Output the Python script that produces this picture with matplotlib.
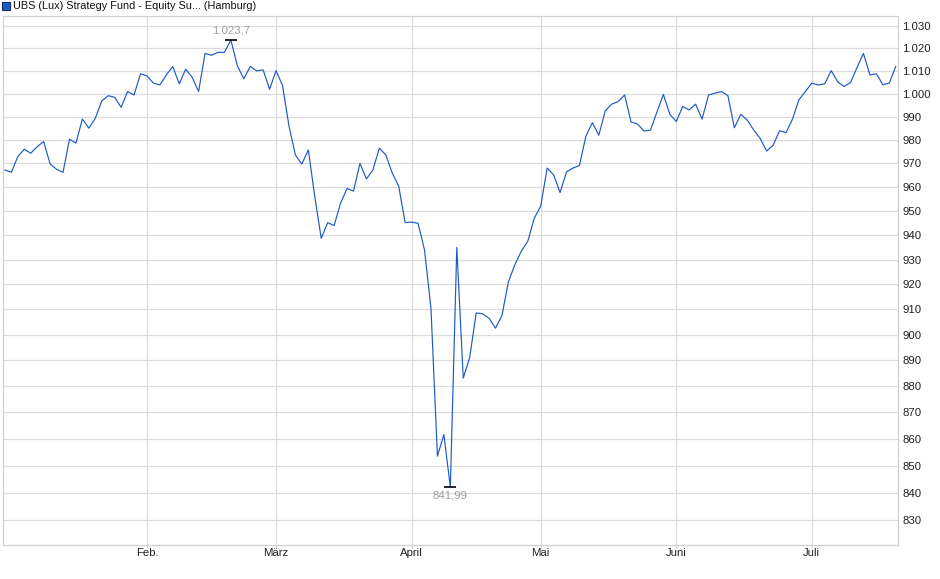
import numpy as np
import pandas as pd
import matplotlib
matplotlib.use("Agg")
import matplotlib.pyplot as plt
from matplotlib.ticker import FixedLocator, NullLocator, FuncFormatter

plt.rcParams['font.family'] = ['Liberation Sans', 'DejaVu Sans']

# trading days Jan 2 - Jul 18 2025 (Hamburg, without holidays)
holidays = ['2025-04-18', '2025-04-21', '2025-05-01']
days = pd.bdate_range('2025-01-02', '2025-07-18')
days = days[~days.isin(pd.to_datetime(holidays))]

jan = [967.2, 966.2, 972.9, 976.0, 974.3, 977.1, 979.3, 969.7, 967.5, 966.2, 980.3,
       978.6, 989.0, 985.0, 989.3, 996.8, 999.1, 998.4, 994.0, 1000.9, 999.4, 1008.7]
feb = [1007.8, 1004.6, 1003.8, 1008.2, 1011.9, 1004.3, 1010.7, 1007.2, 1000.9, 1017.7,
       1016.9, 1018.2, 1018.2, 1023.7, 1012.3, 1006.5, 1011.9, 1010.0, 1010.4, 1001.9]
mar = [1010.1, 1003.6, 986.0, 973.5, 969.7, 975.7, 956.0, 938.7, 945.2, 944.0, 953.3,
       959.4, 958.3, 970.0, 963.4, 967.2, 976.4, 973.6, 965.9, 960.4, 945.2]
apr = [945.4, 944.9, 934.0, 910.4, 853.5, 861.6, 841.99, 935.0, 883.1, 891.1, 908.6,
       908.3, 906.5, 902.6, 907.6, 921.1, 928.0, 933.5, 937.5, 947.0]
may = [952.0, 968.0, 965.1, 957.7, 966.4, 968.0, 969.1, 981.6, 987.4, 982.0, 992.5,
       995.4, 996.5, 999.4, 987.7, 986.8, 983.8, 984.2, 991.9, 999.7, 991.0]
jun = [987.9, 994.4, 992.9, 995.4, 988.9, 999.4, 1000.2, 1000.9, 999.1, 985.2, 991.0,
       988.5, 984.2, 980.6, 975.2, 977.7, 983.9, 983.1, 988.9, 997.3, 1000.9]
jul = [1004.6, 1003.8, 1004.3, 1010.1, 1005.2, 1003.1, 1004.9, 1011.5, 1017.7, 1008.2,
       1008.7, 1003.9, 1004.6, 1011.9]

prices = np.array(jan + feb + mar + apr + may + jun + jul)
month_labels = ['Feb.', 'März', 'April', 'Mai', 'Juni', 'Juli']
y_ticks = list(range(830, 1031, 10))

x = np.arange(len(prices))
month_starts = [i for i in range(1, len(days)) if days[i].month != days[i - 1].month]


def de_format(v, pos=None):
    return f"{int(round(v)):,}".replace(",", ".")


fig = plt.figure(figsize=(9.4, 5.79), dpi=100)
ax = fig.add_axes([3 / 940, 34 / 579, 895 / 940, 529 / 579])

ax.plot(x, prices, color='#1d5bc4', linewidth=0.85, zorder=3)

ax.set_yscale('log')
ax.set_ylim(821, 1034.5)
ax.set_xlim(-0.3, 138.35)

ax.yaxis.set_major_locator(FixedLocator(y_ticks))
ax.yaxis.set_minor_locator(NullLocator())
ax.yaxis.set_major_formatter(FuncFormatter(de_format))
ax.yaxis.tick_right()
ax.tick_params(axis='y', length=0, pad=3, labelsize=8.2, labelcolor='#222222')

ax.set_xticks(month_starts)
ax.set_xticklabels(month_labels)
ax.tick_params(axis='x', length=2, color='#d0d0d0', pad=0.5, labelsize=8.2,
               labelcolor='#222222')

ax.grid(True, color='#dcdcdc', linewidth=0.9)
ax.set_axisbelow(True)
for s in ax.spines.values():
    s.set_color('#d0d0d0')
    s.set_linewidth(0.9)

# high / low markers
i_hi = int(np.argmax(prices))
i_lo = int(np.argmin(prices))
ax.plot([i_hi], [prices[i_hi]], marker='_', markersize=9, mew=1.2, color='black', zorder=4)
ax.plot([i_lo], [prices[i_lo]], marker='_', markersize=9, mew=1.2, color='black', zorder=4)
ax.annotate('1.023,7', (i_hi, prices[i_hi]), xytext=(0, 3), textcoords='offset points',
            ha='center', va='bottom', fontsize=8.2, color='#a0a0a0')
ax.annotate('841,99', (i_lo, prices[i_lo]), xytext=(0, -2), textcoords='offset points',
            ha='center', va='top', fontsize=8.2, color='#a0a0a0')

# legend line at top
fig.patches.append(plt.Rectangle((2 / 940, 1 - 10 / 579), 8 / 940, 8 / 579,
                                 transform=fig.transFigure, facecolor='#1d5bc4',
                                 edgecolor='#0d2f70', linewidth=0.8))
fig.text(13 / 940, 1 - 6 / 579, 'UBS (Lux) Strategy Fund - Equity Su... (Hamburg)',
         ha='left', va='center', fontsize=7.8, color='#111111')

fig.savefig('out.png', dpi=100)
